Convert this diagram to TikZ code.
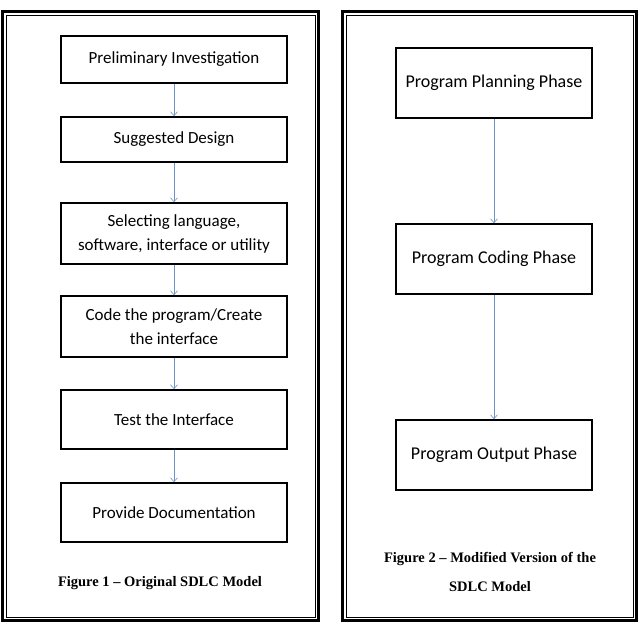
\documentclass[tikz,border=0pt]{standalone}
\usepackage{fontspec}
\setmainfont{Carlito}
\newfontfamily\capfont{Liberation Serif}
\usetikzlibrary{arrows.meta}
\definecolor{arr}{RGB}{110,145,200}
\begin{document}
\begin{tikzpicture}[x=1pt,y=-1pt,
 box/.style={draw=black,line width=1.6pt,align=center,font=\fontsize{17}{24}\selectfont,inner sep=0pt},
 conn/.style={draw=arr,line width=0.6pt,-{Straight Barb[length=4pt,width=7pt]}},
 figcap/.style={font=\capfont\bfseries\fontsize{14.5}{29}\selectfont,align=center}]
\useasboundingbox[fill=white] (0,0) rectangle (642,631);
% panels
\foreach \a/\b in {1/320,341/638}{
 \draw[line width=2.6pt] (\a+1.5,11.5) rectangle (\b-1.5,620.5);
 \draw[line width=0.6pt] (\a+5,15) rectangle (\b-5,617);
}
% left boxes
\node[box,minimum width=226,minimum height=47] (l1) at (174,59.5) {Preliminary Investigation};
\node[box,minimum width=226,minimum height=45] (l2) at (174,139.5) {Suggested Design};
\node[box,minimum width=226,minimum height=61] (l3) at (174,233.5) {Selecting language,\\ software, interface or utility};
\node[box,minimum width=226,minimum height=61] (l4) at (174,326.5) {Code the program/Create\\ the interface};
\node[box,minimum width=226,minimum height=59] (l5) at (174,419.5) {Test the Interface};
\node[box,minimum width=226,minimum height=59] (l6) at (174,512.5) {Provide Documentation};
\foreach \p/\q in {l1/l2,l2/l3,l3/l4,l4/l5,l5/l6}{\draw[conn] (\p) -- (\q);}
\node[figcap] (c1) at (160,583) {Figure 1 – Original SDLC Model};
% right boxes
\node[box,minimum width=196,minimum height=70,font=\fontsize{18}{24}\selectfont] (r1) at (494,83) {Program Planning Phase};
\node[box,minimum width=196,minimum height=70,font=\fontsize{18}{24}\selectfont] (r2) at (494,259) {Program Coding Phase};
\node[box,minimum width=196,minimum height=70,font=\fontsize{18}{24}\selectfont] (r3) at (494,455) {Program Output Phase};
\draw[conn] (r1) -- (r2);
\draw[conn] (r2) -- (r3);
\node[figcap] (c2) at (490,572) {Figure 2 – Modified Version of the\\SDLC Model};
\end{tikzpicture}
\end{document}
